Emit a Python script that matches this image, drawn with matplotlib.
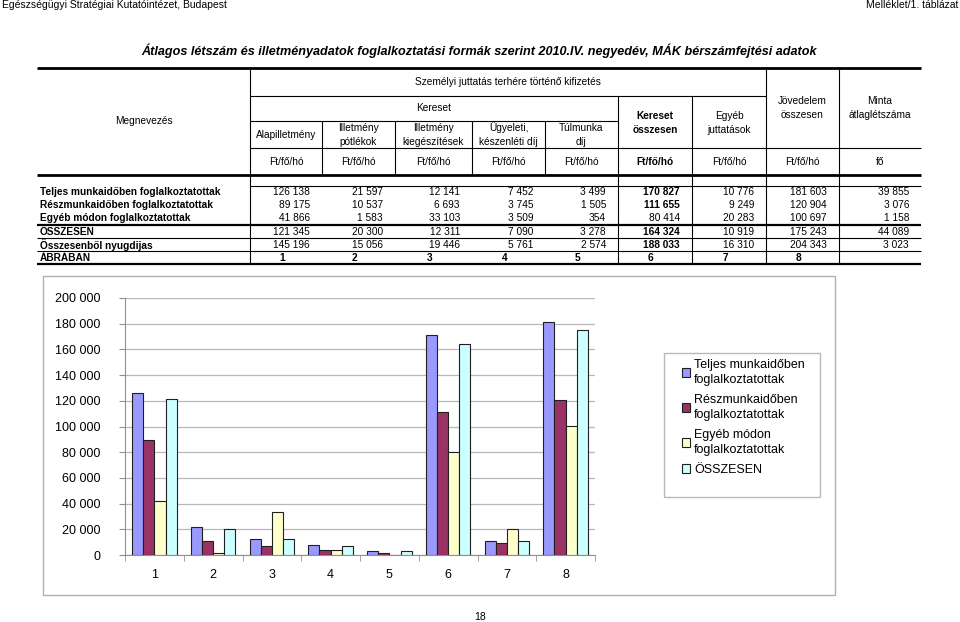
import numpy as np
import matplotlib
matplotlib.use("Agg")
import matplotlib.pyplot as plt
from matplotlib.patches import Rectangle
from matplotlib.ticker import FuncFormatter

plt.rcParams['font.family'] = ['Liberation Sans', 'DejaVu Sans']

# --- data -------------------------------------------------------------
col_heads = ["Alapilletmény", "Illetmény\npótlékok", "Illetmény\nkiegészítések",
             "Ügyeleti,\nkészenléti díj", "Túlmunka\ndíj", "Kereset\nösszesen",
             "Egyéb\njuttatások", "Jövedelem\nösszesen", "Minta\nátlaglétszáma"]
units = ["Ft/fő/hó"] * 8 + ["fő"]
row_labels = ["Teljes munkaidőben foglalkoztatottak",
              "Részmunkaidőben foglalkoztatottak",
              "Egyéb módon foglalkoztatottak",
              "ÖSSZESEN",
              "Összesenből nyugdijas"]
teljes = [126138, 21597, 12141, 7452, 3499, 170827, 10776, 181603, 39855]
reszmunka = [89175, 10537, 6693, 3745, 1505, 111655, 9249, 120904, 3076]
egyeb = [41866, 1583, 33103, 3509, 354, 80414, 20283, 100697, 1158]
osszesen = [121345, 20300, 12311, 7090, 3278, 164324, 10919, 175243, 44089]
nyugdijas = [145196, 15056, 19446, 5761, 2574, 188033, 16310, 204343, 3023]
abraban = ["1", "2", "3", "4", "5", "6", "7", "8"]

series_names = ["Teljes munkaidőben\nfoglalkoztatottak",
                "Részmunkaidőben\nfoglalkoztatottak",
                "Egyéb módon\nfoglalkoztatottak",
                "ÖSSZESEN"]
series_colors = ["#9999FF", "#993366", "#FFFFCC", "#CCFFFF"]


def fmt(v):
    return f"{v:,.0f}".replace(",", " ")


fig = plt.figure(figsize=(9.6, 6.22), dpi=100)
bg = fig.add_axes([0, 0, 1, 1])
bg.set_xlim(0, 960)
bg.set_ylim(622, 0)
bg.axis("off")

# page header / footer
bg.text(2, 5, "Egészségügyi Stratégiai Kutatóintézet, Budapest", fontsize=7.5, va="center")
bg.text(958, 5, "Melléklet/1. táblázat", fontsize=7.5, va="center", ha="right")
bg.text(479, 51, "Átlagos létszám és illetményadatok foglalkoztatási formák szerint "
        "2010.IV. negyedév, MÁK bérszámfejtési adatok",
        fontsize=9.05, fontweight="bold", fontstyle="italic", ha="center", va="center")
bg.text(480, 617, "18", fontsize=7.5, ha="center", va="center")

# --- table grid ---------------------------------------------------------
L, R = 37, 921
xs = [250, 322, 395, 472, 545, 618, 692, 766, 839, 921]


def hline(y, x0, x1, lw=0.8):
    bg.plot([x0, x1], [y, y], color="black", lw=lw, solid_capstyle="butt")


def vline(x, y0, y1, lw=0.8):
    bg.plot([x, x], [y0, y1], color="black", lw=lw, solid_capstyle="butt")


hline(68, L, R, 2)
hline(96, 250, 766)
hline(121, 250, 618)
hline(148, 250, R)
hline(175, L, R, 2)
vline(250, 68, 175)
for x in xs[1:5]:
    vline(x, 121, 175)
vline(618, 96, 175)
vline(692, 96, 175)
vline(766, 68, 175)
vline(839, 68, 175)

hline(186, 250, R)
hline(225, L, R, 1.6)
hline(238, L, R)
hline(251, L, R)
hline(264, L, R, 1.6)
for x in [250, 618, 692, 766, 839]:
    vline(x, 175, 264)

hfs = 7.3
bg.text(144, 121, "Megnevezés", fontsize=hfs, ha="center", va="center")
bg.text(508, 82, "Személyi juttatás terhére történő kifizetés", fontsize=hfs, ha="center", va="center")
bg.text(434, 108, "Kereset", fontsize=hfs, ha="center", va="center")
centers = [(xs[i] + xs[i + 1]) / 2 for i in range(9)]
for i, h in enumerate(col_heads):
    if i < 5:
        y = 135
    elif i < 7:
        y = 123
    else:
        y = 108
    bg.text(centers[i], y, h, fontsize=hfs, ha="center", va="center", linespacing=1.5,
            fontweight="bold" if i == 5 else "normal")
    bg.text(centers[i], 162, units[i], fontsize=hfs, ha="center", va="center",
            fontweight="bold" if i == 5 else "normal")

rows = [teljes, reszmunka, egyeb, osszesen, nyugdijas]
row_y = [192, 205, 218, 232, 245]
for r, (lab, vals, y) in enumerate(zip(row_labels, rows, row_y)):
    bg.text(L + 3, y, lab, fontsize=7.3, fontweight="bold", va="center")
    for i, v in enumerate(vals):
        bold = (i == 5 and r != 2)
        bg.text(xs[i + 1] - 12, y, fmt(v), fontsize=7.3, ha="right", va="center",
                fontweight="bold" if bold else "normal")
bg.text(L + 3, 258, "ÁBRÁBAN", fontsize=7.3, fontweight="bold", va="center")
for i, a in enumerate(abraban):
    bg.text(centers[i] - 4, 258, a, fontsize=7.3, fontweight="bold", ha="center", va="center")

# --- chart ---------------------------------------------------------------
bg.add_patch(Rectangle((43, 276), 792, 319, fill=False, edgecolor="#b0b0b0", lw=1))
# legend frame
bg.add_patch(Rectangle((664, 353), 156, 144, fill=False, edgecolor="#b8b8b8", lw=1))

ax = fig.add_axes([125 / 960, (622 - 555) / 622, 470 / 960, 257 / 622])
x = np.arange(len(abraban))
w = 0.19
chart_series = [teljes[:8], reszmunka[:8], egyeb[:8], osszesen[:8]]
handles = []
for k, (vals, col, name) in enumerate(zip(chart_series, series_colors, series_names)):
    b = ax.bar(x + (k - 1.5) * w, vals, w, color=col, edgecolor="#202020", lw=0.8,
               label=name, zorder=3)
    handles.append(b)

ax.set_xlim(-0.5, 7.5)
ax.set_ylim(0, 200000)
ax.set_yticks(np.arange(0, 200001, 20000))
ax.yaxis.set_major_formatter(FuncFormatter(lambda v, p: fmt(v)))
ax.set_xticks(x)
ax.set_xticklabels(abraban)
ax.set_xticks(np.arange(-0.5, 8, 1), minor=True)
ax.tick_params(axis="x", which="major", length=0, labelsize=9, pad=10)
ax.tick_params(axis="x", which="minor", length=4, color="#909090")
ax.tick_params(axis="y", length=4, color="#909090", labelsize=9, pad=14)
ax.grid(axis="y", color="#b8b8b8", lw=0.9, zorder=0)
for s in ["top", "right"]:
    ax.spines[s].set_visible(False)
for s in ["left", "bottom"]:
    ax.spines[s].set_color("#909090")

leg = fig.legend(handles=handles, loc="upper left", bbox_to_anchor=(679 / 960, 1 - 356 / 622),
                 fontsize=9, frameon=False, handlelength=0.7, handleheight=0.7,
                 handletextpad=0.3, labelspacing=0.6, borderpad=0.2, borderaxespad=0)
for t in leg.get_texts():
    t.set_linespacing(1.4)

fig.savefig("out.png", dpi=100)
